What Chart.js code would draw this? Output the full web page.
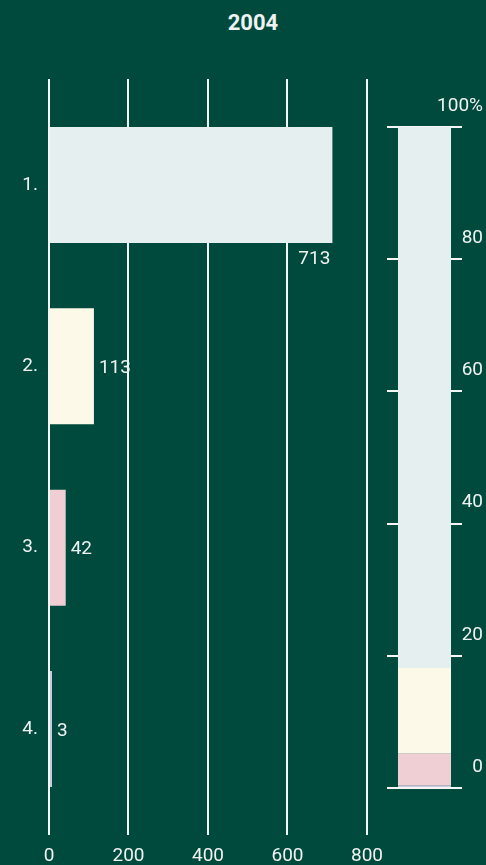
<!DOCTYPE html>
<html lang="en">

<head>
    <meta charset="UTF-8">
    <title>2004</title>
    <style>
        body { margin: 0; background: #004a3d; width: 486px; height: 865px; overflow: hidden; position: relative; font-family: Roboto, sans-serif; }
        #title { position: absolute; left: 203px; top: 10px; width: 100px; text-align: center; color: #eef3f1; font-size: 22px; font-weight: bold; }
        #barBox { position: absolute; left: 0; top: 0; width: 393px; height: 865px; }
        #shareBox { position: absolute; left: 380px; top: 0; width: 106px; height: 865px; }
    </style>
</head>

<body>
    <div id="title">2004</div>
    <div id="barBox"><canvas id="barChart"></canvas></div>
    <div id="shareBox"><canvas id="shareChart"></canvas></div>
    <script src="https://cdn.jsdelivr.net/npm/chart.js"></script>
    <script>
        const categories = ['1.', '2.', '3.', '4.'];
        const values = [713, 113, 42, 3];
        const barColors = ['#e6eff0', '#fcf9e9', '#f0cfd4', '#c6cbe2'];
        const xTicks = [0, 200, 400, 600, 800];
        const shareTicks = [0, 20, 40, 60, 80, 100];

        const textColor = '#eef3f1';
        const lineColor = '#f4f7f6';
        const font = { family: 'Roboto', size: 19 };

        const total = values.reduce((a, b) => a + b, 0);

        // value labels next to the bars
        const valueLabels = {
            id: 'valueLabels',
            afterDatasetsDraw(chart) {
                const ctx = chart.ctx;
                const meta = chart.getDatasetMeta(0);
                ctx.save();
                ctx.fillStyle = textColor;
                ctx.font = font.size + 'px ' + font.family;
                ctx.textBaseline = 'middle';
                meta.data.forEach((bar, i) => {
                    if (values[i] > 600) {
                        ctx.textAlign = 'right';
                        ctx.fillText(values[i], bar.x - 2, bar.y + bar.height / 2 + 16);
                    } else {
                        ctx.textAlign = 'left';
                        ctx.fillText(values[i], bar.x + 5, bar.y + 2);
                    }
                });
                ctx.restore();
            }
        };

        new Chart(document.getElementById('barChart'), {
            type: 'bar',
            data: {
                datasets: [{
                    data: values.map((v, i) => ({ x: v, y: i + 1 })),
                    backgroundColor: barColors,
                    borderWidth: 0,
                    minBarLength: 3,
                    barPercentage: 0.8,
                    categoryPercentage: 0.8
                }]
            },
            options: {
                indexAxis: 'y',
                responsive: true,
                maintainAspectRatio: false,
                animation: false,
                layout: { padding: { top: 79, right: 20, left: 0, bottom: 0 } },
                scales: {
                    x: {
                        type: 'linear',
                        min: 0,
                        max: 800,
                        afterBuildTicks(scale) { scale.ticks = xTicks.map(v => ({ value: v })); },
                        afterFit(scale) { scale.height = 30; },
                        grid: { color: lineColor, lineWidth: 2, drawTicks: false },
                        border: { display: false },
                        ticks: { color: textColor, font: font, padding: 10 }
                    },
                    y: {
                        type: 'linear',
                        offset: false,
                        min: 0.415,
                        max: 4.585,
                        reverse: true,
                        afterBuildTicks(scale) { scale.ticks = categories.map((c, i) => ({ value: i + 1 })); },
                        afterFit(scale) { scale.width = 49; },
                        grid: { display: false, drawTicks: false, offset: false },
                        border: { display: false },
                        ticks: {
                            color: textColor,
                            font: font,
                            padding: 11,
                            callback: (v) => categories[v - 1]
                        }
                    }
                },
                plugins: {
                    legend: { display: false },
                    tooltip: { enabled: false }
                }
            },
            plugins: [valueLabels]
        });

        // percent labels right of the stacked column
        const shareLabels = {
            id: 'shareLabels',
            afterDraw(chart) {
                const ctx = chart.ctx;
                const y = chart.scales.y;
                ctx.save();
                ctx.fillStyle = textColor;
                ctx.font = font.size + 'px ' + font.family;
                ctx.textAlign = 'right';
                ctx.textBaseline = 'middle';
                shareTicks.forEach(t => {
                    ctx.fillText(t === 100 ? '100%' : t, chart.width - 3, y.getPixelForValue(t) - 21);
                });
                ctx.restore();
            }
        };

        // bottom segment first: 4., 3., 2., 1.
        const order = [3, 2, 1, 0];
        new Chart(document.getElementById('shareChart'), {
            type: 'bar',
            data: {
                labels: [''],
                datasets: order.map(i => ({
                    label: categories[i],
                    data: [values[i] / total * 100],
                    backgroundColor: barColors[i],
                    borderWidth: 0,
                    barPercentage: 0.707,
                    categoryPercentage: 1
                }))
            },
            options: {
                responsive: true,
                maintainAspectRatio: false,
                animation: false,
                layout: { padding: { top: 127, right: 24, left: 7, bottom: 77 } },
                scales: {
                    x: { stacked: true, display: false },
                    y: {
                        stacked: true,
                        position: 'right',
                        min: 0,
                        max: 100,
                        afterBuildTicks(scale) { scale.ticks = shareTicks.map(v => ({ value: v })); },
                        afterFit(scale) { scale.width = 0; },
                        grid: { color: lineColor, lineWidth: 2, drawTicks: false },
                        border: { display: false },
                        ticks: { display: false }
                    }
                },
                plugins: {
                    legend: { display: false },
                    tooltip: { enabled: false }
                }
            },
            plugins: [shareLabels]
        });
    </script>
</body>

</html>
